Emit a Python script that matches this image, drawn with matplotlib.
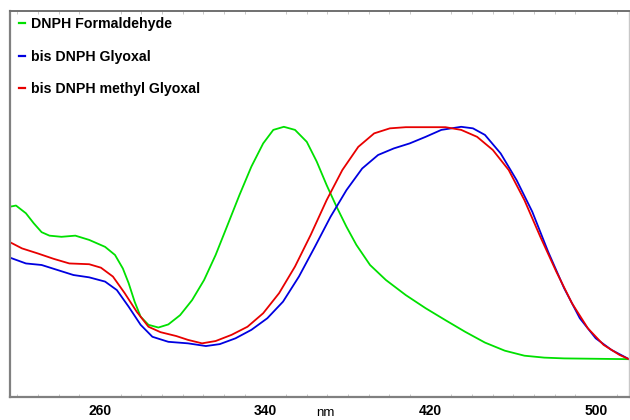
import matplotlib
matplotlib.use("Agg")
import matplotlib.pyplot as plt
from matplotlib.ticker import MultipleLocator

plt.rcParams['font.family'] = ['Liberation Sans', 'DejaVu Sans']

# Wavelength (nm) and relative absorbance
form_nm = [216.4, 219.3, 224.1, 227.9, 231.7, 235.5, 241.3, 248.0, 254.7, 262.4,
           267.2, 271.0, 273.8, 276.7, 279.6, 283.4, 288.2, 293.0, 298.7, 304.5,
           310.3, 315.9, 321.7, 327.4, 333.2, 338.9, 343.8, 348.9, 354.3, 360.0,
           364.8, 369.6, 374.4, 379.2, 384.0, 390.6, 398.3, 407.9, 417.5, 427.1,
           436.6, 446.2, 455.8, 465.3, 474.9, 484.5, 515.9]
form_abs = [0.493, 0.496, 0.476, 0.450, 0.427, 0.418, 0.415, 0.418, 0.407, 0.389,
            0.368, 0.333, 0.295, 0.247, 0.208, 0.187, 0.180, 0.188, 0.212, 0.251,
            0.303, 0.368, 0.446, 0.523, 0.597, 0.657, 0.692, 0.700, 0.692, 0.661,
            0.610, 0.549, 0.493, 0.441, 0.394, 0.342, 0.303, 0.264, 0.230, 0.199,
            0.169, 0.141, 0.120, 0.107, 0.102, 0.100, 0.098]

gly_nm = [216.4, 224.1, 231.7, 239.4, 247.1, 254.7, 262.4, 268.1, 273.8, 279.6,
          285.3, 293.0, 302.5, 311.2, 317.9, 325.5, 333.2, 340.9, 348.5, 356.2,
          363.9, 371.5, 379.2, 386.8, 394.5, 402.1, 409.8, 417.5, 425.1, 434.7,
          440.4, 446.2, 453.8, 461.5, 469.1, 476.8, 484.5, 492.1, 499.8, 507.4,
          515.9]
gly_abs = [0.361, 0.346, 0.342, 0.329, 0.316, 0.310, 0.299, 0.277, 0.234, 0.187,
           0.156, 0.143, 0.139, 0.132, 0.137, 0.152, 0.174, 0.204, 0.247, 0.312,
           0.389, 0.467, 0.536, 0.592, 0.627, 0.644, 0.657, 0.674, 0.692, 0.700,
           0.696, 0.679, 0.631, 0.562, 0.480, 0.376, 0.282, 0.204, 0.152, 0.122,
           0.098]

mgly_nm = [216.4, 222.2, 229.8, 237.5, 245.1, 254.7, 260.4, 266.2, 271.9, 277.7,
           283.4, 289.2, 296.8, 302.5, 309.3, 315.9, 323.6, 331.3, 338.9, 346.6,
           354.3, 361.9, 369.6, 377.2, 384.9, 392.6, 400.2, 407.9, 427.1, 434.7,
           442.4, 450.0, 457.7, 465.3, 473.0, 480.7, 488.3, 496.0, 503.6, 511.3,
           515.9]
mgly_abs = [0.401, 0.385, 0.372, 0.358, 0.346, 0.344, 0.335, 0.312, 0.269, 0.221,
            0.182, 0.168, 0.158, 0.148, 0.139, 0.145, 0.161, 0.182, 0.217, 0.269,
            0.338, 0.420, 0.510, 0.588, 0.648, 0.683, 0.696, 0.699, 0.699, 0.692,
            0.674, 0.640, 0.588, 0.510, 0.415, 0.325, 0.243, 0.178, 0.135, 0.109,
            0.098]

labels = ["DNPH Formaldehyde", "bis DNPH Glyoxal", "bis DNPH methyl Glyoxal"]
colors = ["#00e000", "#0000e0", "#e80000"]
xticks = [260, 340, 420, 500]

fig = plt.figure(figsize=(6.3, 4.2), dpi=100)
ax = fig.add_axes([10/630, 23/420, 619/630, 386/420])

ax.plot(form_nm, form_abs, color=colors[0], lw=1.3, label=labels[0])
ax.plot(gly_nm, gly_abs, color=colors[1], lw=1.3, label=labels[1])
ax.plot(mgly_nm, mgly_abs, color=colors[2], lw=1.3, label=labels[2])

ax.set_xlim(216.4, 515.9)
ax.set_ylim(0, 1)
ax.set_xticks(xticks)
ax.set_xticklabels([str(t) for t in xticks], fontweight='bold', fontsize=10)
ax.xaxis.set_minor_locator(MultipleLocator(10))
ax.tick_params(axis='x', which='major', length=0, pad=5)
ax.tick_params(axis='x', which='minor', length=2, color='#c0c0c0', direction='in', top=True)
ax.set_yticks([])

for side in ['left', 'bottom']:
    ax.spines[side].set_color('#808080')
    ax.spines[side].set_linewidth(1.6)
ax.spines['top'].set_color('#707070')
ax.spines['top'].set_linewidth(1.4)
ax.spines['right'].set_color('#c8c8c8')
ax.spines['right'].set_linewidth(1.0)

fig.text(325/630, 1 - 413/420, "nm", ha='center', va='center', fontsize=9.5)

leg = ax.legend(loc='upper left', bbox_to_anchor=(3/619, 1.0), frameon=False,
                handlelength=0.45, handletextpad=0.45,
                labelspacing=1.33, borderaxespad=0.2, borderpad=0.2,
                prop={'weight': 'bold', 'size': 10.2})
for line in leg.get_lines():
    line.set_linewidth(1.6)

fig.savefig("out.png", dpi=100)
